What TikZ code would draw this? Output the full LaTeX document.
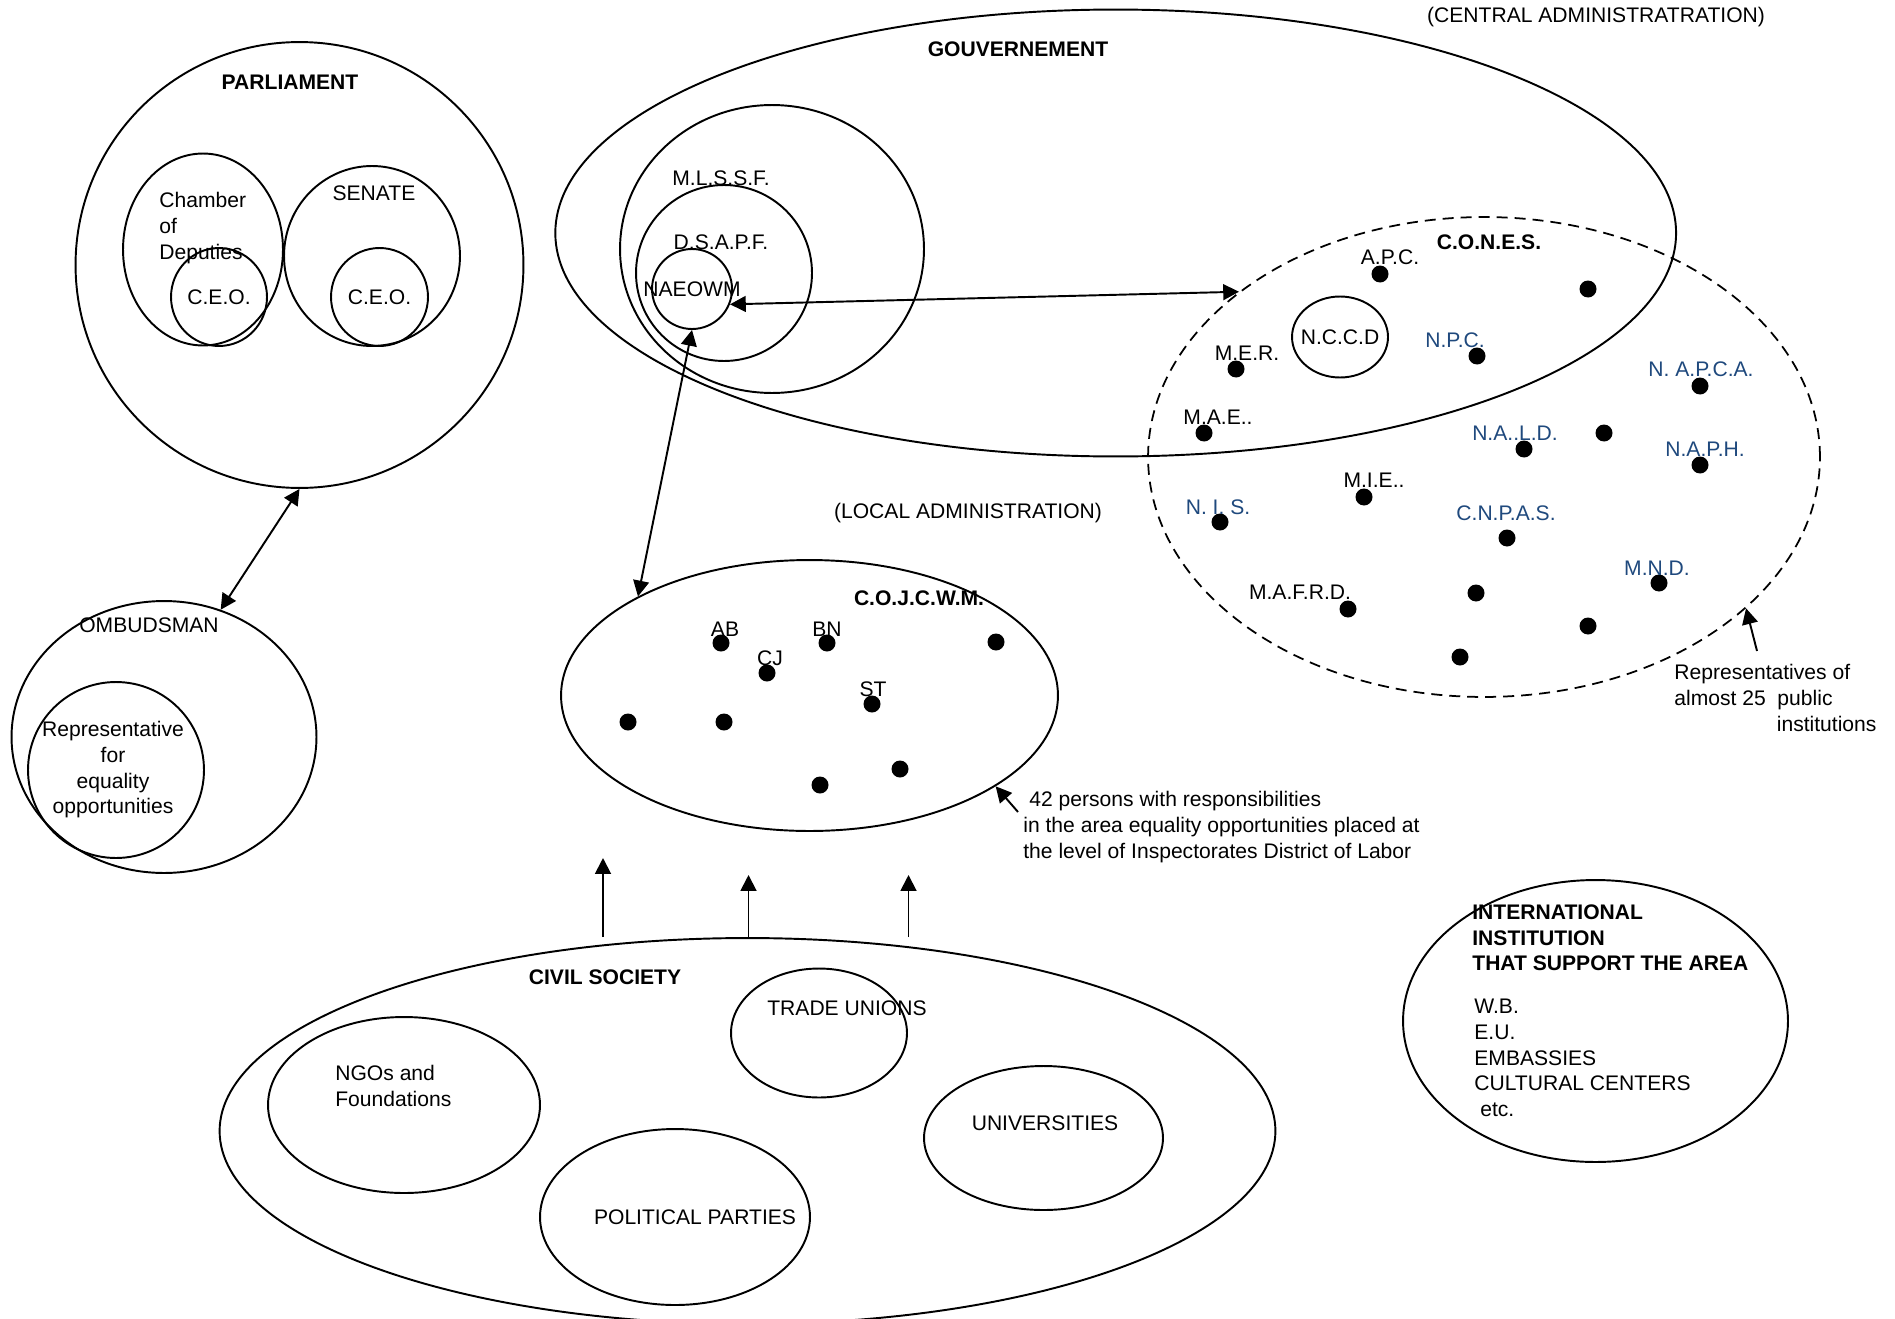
\documentclass[tikz,border=0pt]{standalone}
\usepackage{fontspec}
\setmainfont{Liberation Sans}
\usetikzlibrary{shapes.geometric,arrows.meta}
\definecolor{instblue}{HTML}{1F497D}

\begin{document}
\begin{tikzpicture}[x=0.02cm,y=-0.02cm,
    every node/.style={font=\fontsize{12}{14.6}\selectfont,inner sep=0pt},
    ring/.style={draw,ellipse,line width=1.1pt,inner sep=0pt},
    dashring/.style={ring,line width=1pt,dash pattern=on 0.22cm off 0.14cm},
    dot/.style={fill,circle,inner sep=0pt,minimum size=0.34cm},
    head/.style={font=\fontsize{12}{14.6}\selectfont\bfseries},
    agency/.style={text=instblue},
    link/.style={line width=1.1pt,{Triangle[length=9pt,width=9pt]}-{Triangle[length=9pt,width=9pt]}},
    oneway/.style={line width=1.1pt,-{Triangle[length=9pt,width=9pt]}}]
  \useasboundingbox (0,0) rectangle (1895,1318);

  % parliament
  \node[ring,minimum width=8.96cm,minimum height=8.92cm] (parl) at (299.5,265) {};
  \node[head] (parlT) at (290,82) {PARLIAMENT};
  \node[ring,minimum width=3.2cm,minimum height=3.84cm] (chamber) at (203,249.5) {};
  \node[align=left,anchor=west] (chamberT) at (159,228) {Chamber\\of\\Deputies};
  \node[ring,minimum width=1.92cm,minimum height=1.96cm] (ceoA) at (219,297) {};
  \node (ceoAT) at (ceoA) {C.E.O.};
  \node[ring,minimum width=3.52cm,minimum height=3.6cm] (senate) at (372,256) {};
  \node (senateT) at (374,193) {SENATE};
  \node[ring,minimum width=1.94cm,minimum height=1.96cm] (ceoB) at (379.5,297) {};
  \node (ceoBT) at (ceoB) {C.E.O.};

  % ombudsman
  \node[ring,minimum width=6.1cm,minimum height=5.44cm] (omb) at (164,737) {};
  \node (ombT) at (149,625) {OMBUDSMAN};
  \node[ring,minimum width=3.52cm,minimum height=3.52cm] (rep) at (116,770) {};
  \node[align=center] (repT) at (113,770) {Representative\\for\\equality\\opportunities};

  \draw[link] (parl.south) -- (omb.66);

  % gouvernement
  \node[ring,minimum width=22.42cm,minimum height=8.94cm] (gouv) at (1115.7,233) {};
  \node[head] (gouvT) at (1018,49) {GOUVERNEMENT};
  \node (centralT) at (1596,17) {(CENTRAL ADMINISTRATRATION)};
  \node[ring,minimum width=6.08cm,minimum height=5.76cm] (mlssf) at (772,249) {};
  \node (mlssfT) at (721,178) {M.L.S.S.F.};
  \node[ring,minimum width=3.52cm,minimum height=3.52cm] (dsapf) at (724,273) {};
  \node (dsapfT) at (721,242) {D.S.A.P.F.};
  \node[ring,minimum width=1.6cm,minimum height=1.6cm] (naeowm) at (692,289) {};
  \node (naeowmT) at (naeowm) {NAEOWM};

  % C.O.N.E.S.
  \node[dashring,minimum width=13.44cm,minimum height=9.6cm] (cones) at (1484,457) {};
  \node[head] (conesT) at (1489,242) {C.O.N.E.S.};
  \node[ring,minimum width=1.92cm,minimum height=1.62cm] (nccd) at (1340,337) {};
  \node (nccdT) at (nccd) {N.C.C.D};

  \node[dot] (apcD) at (1380,274) {};
  \node (apcT) at (1390,257) {A.P.C.};
  \node[dot] (conesD1) at (1588,289) {};
  \node[dot] (merD) at (1236,369) {};
  \node (merT) at (1247,353) {M.E.R.};
  \node[dot] (npcD) at (1477,356) {};
  \node[agency] (npcT) at (1455,340) {N.P.C.};
  \node[dot] (napcaD) at (1700,386) {};
  \node[agency] (napcaT) at (1701,369) {N. A.P.C.A.};
  \node[dot] (maeD) at (1204,433) {};
  \node (maeT) at (1218,417) {M.A.E..};
  \node[dot] (naldD) at (1524,449) {};
  \node[agency] (naldT) at (1515,433) {N.A..L.D.};
  \node[dot] (conesD2) at (1604,433) {};
  \node[dot] (naphD) at (1700,465) {};
  \node[agency] (naphT) at (1705,449) {N.A.P.H.};
  \node[dot] (mieD) at (1364,497) {};
  \node (mieT) at (1374,480) {M.I.E..};
  \node[dot] (nisD) at (1220,522) {};
  \node[agency] (nisT) at (1218,507) {N. I. S.};
  \node[dot] (cnpasD) at (1507,538) {};
  \node[agency] (cnpasT) at (1506,513) {C.N.P.A.S.};
  \node[dot] (mndD) at (1659,583) {};
  \node[agency] (mndT) at (1657,568) {M.N.D.};
  \node[dot] (mafrdD) at (1348,609) {};
  \node (mafrdT) at (1300,592) {M.A.F.R.D.};
  \node[dot] (conesD3) at (1476,593) {};
  \node[dot] (conesD4) at (1588,626) {};
  \node[dot] (conesD5) at (1460,657) {};

  \node[align=left,anchor=west] (repsT) at (1674,698) {Representatives of\\almost 25~~public\\\hspace*{2.05cm}institutions};
  \coordinate (repsTail) at (1757,651);
  \draw[oneway] (repsTail) -- (cones.-30);

  \draw[link] (naeowm.-22) -- (cones.146);

  % local administration
  \node (localT) at (968,513) {(LOCAL ADMINISTRATION)};
  \node[ring,minimum width=9.94cm,minimum height=5.42cm] (cojcwm) at (809.5,695.5) {};
  \node[head] (cojcwmT) at (919,598) {C.O.J.C.W.M.};
  \node[dot] (abD) at (721,643) {};
  \node (abT) at (725,629) {AB};
  \node[dot] (bnD) at (827,643) {};
  \node (bnT) at (827,629) {BN};
  \node[dot] (cjD) at (767,673) {};
  \node (cjT) at (770,658) {CJ};
  \node[dot] (stD) at (872,704) {};
  \node (stT) at (873,689) {ST};
  \node[dot] (cojD1) at (996,642) {};
  \node[dot] (cojD2) at (628,722) {};
  \node[dot] (cojD3) at (724,722) {};
  \node[dot] (cojD4) at (900,769) {};
  \node[dot] (cojD5) at (820,785) {};

  \node[align=left,anchor=west] (personsT) at (1023,827) {\hspace*{0.12cm}42 persons with responsibilities\\in the area equality opportunities placed at\\the level of Inspectorates District of Labor};
  \coordinate (personsTail) at (1018,812);
  \draw[oneway] (personsTail) -- (cojcwm.-26);

  \draw[link] (naeowm.south) -- (cojcwm.150);

  % civil society
  \node[ring,minimum width=21.12cm,minimum height=7.72cm] (civil) at (747.5,1131) {};
  \node[head] (civilT) at (605,977) {CIVIL SOCIETY};
  \node[ring,minimum width=3.52cm,minimum height=2.58cm] (trade) at (819,1033) {};
  \node (tradeT) at (847,1008) {TRADE UNIONS};
  \node[ring,minimum width=5.44cm,minimum height=3.52cm] (ngo) at (404,1105) {};
  \node[align=left,anchor=west] (ngoT) at (335,1086) {NGOs and\\Foundations};
  \node[ring,minimum width=5.4cm,minimum height=3.52cm] (polit) at (675,1217) {};
  \node (politT) at (695,1217) {POLITICAL PARTIES};
  \node[ring,minimum width=4.78cm,minimum height=2.88cm] (univ) at (1043.5,1138) {};
  \node (univT) at (1045,1123) {UNIVERSITIES};

  \coordinate (upA) at (603,858);
  \coordinate (upB) at (748.5,875);
  \coordinate (upC) at (908.5,875);
  \draw[oneway] (upA |- civil.north) -- (upA);
  \draw[oneway] (upB |- civil.north) -- (upB);
  \draw[oneway] (upC |- civil.north) -- (upC);

  % international
  \node[ring,minimum width=7.7cm,minimum height=5.64cm] (intl) at (1595.5,1021) {};
  \node[head,align=left,anchor=west] (intlT) at (1472,938) {INTERNATIONAL\\INSTITUTION\\THAT SUPPORT THE AREA};
  \node[align=left,anchor=west] (intlL) at (1474,1058) {W.B.\\E.U.\\EMBASSIES\\CULTURAL CENTERS\\\hspace*{0.12cm}etc.};
\end{tikzpicture}
\end{document}
